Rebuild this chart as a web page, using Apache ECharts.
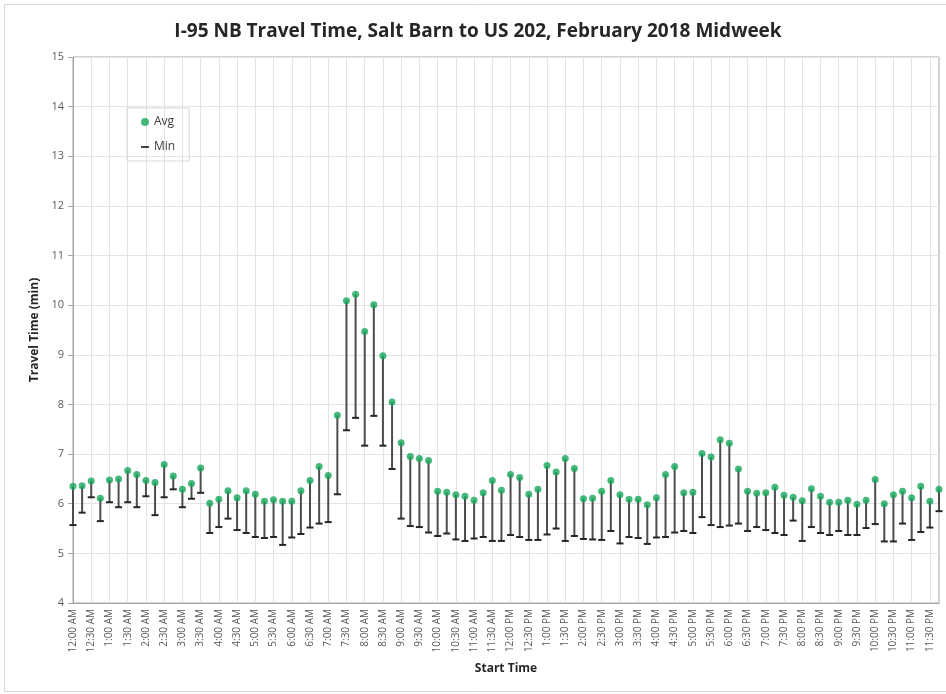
<!DOCTYPE html>
<html>
<head>
<meta charset="utf-8">
<script src="https://cdn.jsdelivr.net/npm/echarts@6/dist/echarts.min.js"></script>
<style>
  html, body { margin: 0; padding: 0; background: #fff; }
  #grafico { width: 946px; height: 694px; }
</style>
</head>
<body>
<div id="grafico"></div>
<script>
// --- dados ---
var horas = [];
['AM', 'PM'].forEach(function (p) {
    [12, 1, 2, 3, 4, 5, 6, 7, 8, 9, 10, 11].forEach(function (h) {
        ['00', '15', '30', '45'].forEach(function (m) {
            horas.push(h + ':' + m + ' ' + p);
        });
    });
});

var mediaTempo = [
    6.35, 6.36, 6.46, 6.11, 6.48, 6.50, 6.67, 6.59, 6.47, 6.43,
    6.79, 6.56, 6.29, 6.41, 6.72, 6.01, 6.09, 6.26, 6.12, 6.26,
    6.19, 6.05, 6.08, 6.05, 6.05, 6.26, 6.47, 6.75, 6.57, 7.78,
    10.09, 10.22, 9.47, 10.01, 8.98, 8.05, 7.23, 6.95, 6.91, 6.87,
    6.25, 6.23, 6.18, 6.15, 6.07, 6.22, 6.47, 6.27, 6.59, 6.53,
    6.19, 6.29, 6.77, 6.64, 6.91, 6.71, 6.10, 6.11, 6.25, 6.47,
    6.18, 6.09, 6.09, 5.98, 6.12, 6.59, 6.75, 6.22, 6.23, 7.01,
    6.94, 7.29, 7.22, 6.70, 6.25, 6.21, 6.22, 6.33, 6.17, 6.13,
    6.06, 6.30, 6.15, 6.03, 6.03, 6.07, 5.99, 6.07, 6.49, 6.00,
    6.18, 6.25, 6.12, 6.35, 6.05, 6.29
];

var minimoTempo = [
    5.57, 5.82, 6.13, 5.65, 6.03, 5.93, 6.03, 5.93, 6.15, 5.77,
    6.13, 6.29, 5.93, 6.10, 6.22, 5.41, 5.53, 5.70, 5.47, 5.41,
    5.33, 5.31, 5.33, 5.17, 5.32, 5.39, 5.52, 5.60, 5.63, 6.19,
    7.48, 7.73, 7.17, 7.77, 7.17, 6.70, 5.70, 5.55, 5.53, 5.42,
    5.35, 5.40, 5.28, 5.25, 5.30, 5.33, 5.25, 5.25, 5.37, 5.33,
    5.27, 5.27, 5.38, 5.50, 5.25, 5.35, 5.29, 5.28, 5.27, 5.45,
    5.20, 5.33, 5.31, 5.19, 5.32, 5.33, 5.42, 5.45, 5.41, 5.73,
    5.57, 5.53, 5.56, 5.60, 5.45, 5.53, 5.47, 5.41, 5.37, 5.66,
    5.25, 5.53, 5.41, 5.37, 5.45, 5.37, 5.37, 5.51, 5.59, 5.24,
    5.24, 5.60, 5.27, 5.43, 5.52, 5.85
];

var fonte = "'Open Sans', 'Liberation Sans', sans-serif";

// --- gráfico ---
var grafico = echarts.init(document.getElementById('grafico'));

var dadosFaixa = horas.map(function (h, i) {
    return [i, minimoTempo[i], mediaTempo[i]];
});

var option = {
    animation: false,
    backgroundColor: '#fff',
    textStyle: { fontFamily: fonte },
    title: {
        text: 'I-95 NB Travel Time, Salt Barn to US 202, February 2018 Midweek',
        left: 473, top: 17, textAlign: 'center',
        textStyle: { fontSize: 19, fontWeight: 'bold', color: '#262626', fontFamily: fonte }
    },
    graphic: [{
        type: 'rect',
        shape: { x: 4.5, y: 4.5, width: 960, height: 687 },
        style: { fill: 'none', stroke: '#d9d9d9', lineWidth: 1 },
        silent: true
    }],
    legend: {
        orient: 'vertical',
        left: 127, top: 108,
        padding: [8, 14, 8, 14],
        itemGap: 13,
        itemWidth: 8, itemHeight: 8,
        borderColor: '#d9d9d9', borderWidth: 1,
        textStyle: { fontSize: 12, color: '#404040' },
        data: [
            { name: 'Avg', icon: 'circle' },
            { name: 'Min', icon: 'path://M0,0 L10,0 L10,2.2 L0,2.2 Z' }
        ]
    },
    grid: {
        left: 73, right: 7, top: 57, bottom: 91,
        show: true, borderColor: '#a6a6a6', borderWidth: 1
    },
    xAxis: {
        type: 'category',
        data: horas,
        boundaryGap: false,
        name: 'Start Time',
        nameLocation: 'middle',
        nameGap: 60,
        nameTextStyle: { fontSize: 12, fontWeight: 'bold', color: '#262626' },
        axisLine: { lineStyle: { color: '#a6a6a6' } },
        axisTick: { show: false, interval: 1 },
        axisLabel: {
            interval: 1, rotate: 90, fontSize: 10, color: '#595959', margin: 6
        },
        splitLine: { show: true, interval: 1, lineStyle: { color: '#e3e3e3' } }
    },
    yAxis: {
        type: 'value',
        min: 4, max: 15, interval: 1,
        name: 'Travel Time (min)',
        nameLocation: 'middle',
        nameGap: 30,
        nameTextStyle: { fontSize: 12, fontWeight: 'bold', color: '#262626' },
        axisLine: { show: true, lineStyle: { color: '#a6a6a6' } },
        axisTick: { show: true, length: 5, lineStyle: { color: '#a6a6a6' } },
        axisLabel: { fontSize: 11, color: '#595959', margin: 9 },
        splitLine: { lineStyle: { color: '#e3e3e3' } }
    },
    series: [
        {
            name: 'Min',
            type: 'custom',
            itemStyle: { color: '#262626' },
            data: dadosFaixa,
            encode: { x: 0, y: [1, 2] },
            renderItem: function (params, api) {
                var baixo = api.coord([api.value(0), api.value(1)]);
                var alto = api.coord([api.value(0), api.value(2)]);
                return {
                    type: 'group',
                    children: [
                        {
                            type: 'line',
                            shape: { x1: baixo[0], y1: baixo[1], x2: alto[0], y2: alto[1] },
                            style: { stroke: '#4d4d4d', lineWidth: 2 }
                        },
                        {
                            type: 'line',
                            shape: { x1: baixo[0] - 3.5, y1: baixo[1], x2: baixo[0] + 3.5, y2: baixo[1] },
                            style: { stroke: '#262626', lineWidth: 2 }
                        }
                    ]
                };
            },
            z: 2
        },
        {
            name: 'Avg',
            type: 'scatter',
            data: mediaTempo,
            symbol: 'circle',
            symbolSize: 7,
            itemStyle: { color: '#16a85b' },
            z: 3
        }
    ]
};
grafico.setOption(option);
</script>
</body>
</html>
